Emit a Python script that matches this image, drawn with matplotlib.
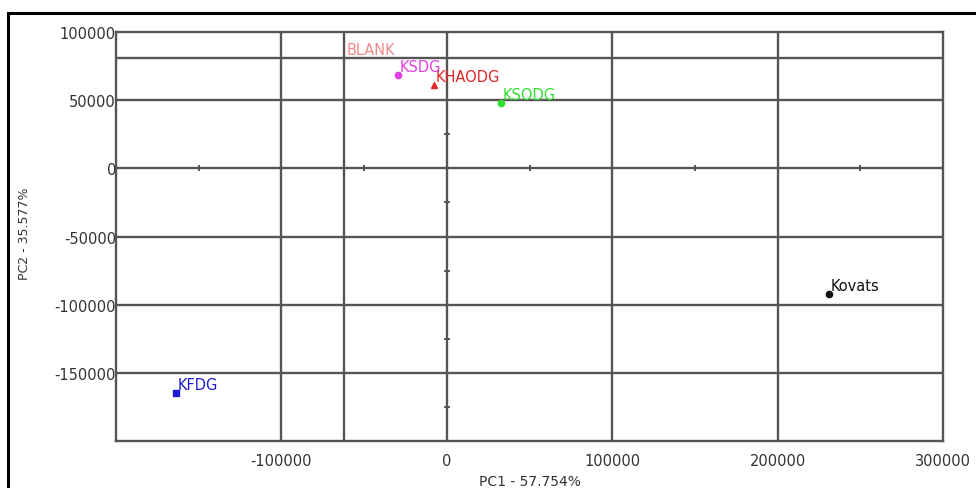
import matplotlib
matplotlib.use("Agg")
import matplotlib.pyplot as plt
from matplotlib.patches import Rectangle

plt.rcParams['font.family'] = ['DejaVu Sans']

# data
samples = ["BLANK", "KSDG", "KHAODG", "KSODG", "KFDG", "Kovats"]
pc1 = [-62000, -29700, -7900, 32700, -164000, 231000]
pc2 = [81000, 68400, 61000, 47800, -164700, -91900]
colors = ["#f08a8a", "#e040e0", "#e02828", "#30e030", "#1c1cd8", "#111111"]
markers = [None, "o", "^", "o", "s", "o"]

xticks = [-100000, 0, 100000, 200000, 300000]
yticks = [-150000, -100000, -50000, 0, 50000, 100000]
xgrid = [-100000, 0, 100000, 200000]
ygrid = [-150000, -100000, -50000, 0, 50000]
xminor = [-150000, -50000, 50000, 150000, 250000]
yminor = [-175000, -125000, -75000, -25000, 25000]

fig = plt.figure(figsize=(9.76, 4.89), dpi=100)
W, H = 976, 489
# outer frame
fig.patches.append(Rectangle((8 / W, -0.1), 1.2, 1 - 14 / H + 0.1, transform=fig.transFigure,
                             fill=False, edgecolor="black", linewidth=2.2, zorder=0))

ax = fig.add_axes([116 / W, (H - 442) / H, (943 - 116) / W, (442 - 33) / H])
ax.set_xlim(-200000, 300000)
ax.set_ylim(-200000, 100000)

gc = "#555555"
for s in ax.spines.values():
    s.set_color(gc)
    s.set_linewidth(1.7)

for xv in xgrid:
    ax.axvline(xv, color=gc, lw=1.7, zorder=1)
for yv in ygrid:
    ax.axhline(yv, color=gc, lw=1.7, zorder=1)
# BLANK crosshair lines
ax.axvline(pc1[0], color=gc, lw=1.7, zorder=1)
ax.axhline(pc2[0], color=gc, lw=1.7, zorder=1)

# minor ticks on zero lines
ax.plot(xminor, [0] * len(xminor), linestyle="none", marker="|", ms=5, mew=1.4, color=gc, zorder=2)
ax.plot([0] * len(yminor), yminor, linestyle="none", marker="_", ms=5, mew=1.4, color=gc, zorder=2)

for name, x, y, c, m in zip(samples, pc1, pc2, colors, markers):
    if m is not None:
        ax.plot([x], [y], linestyle="none", marker=m, ms=4.5, color=c, zorder=3)
    ax.annotate(name, (x, y), xytext=(1.5, 0.5), textcoords="offset points", color=c,
                fontsize=10.5, ha="left", va="bottom", zorder=4)

ax.set_xticks(xticks)
ax.set_yticks(yticks)
ax.set_xticklabels([str(v) for v in xticks])
ax.set_yticklabels([str(v) for v in yticks])
ax.tick_params(axis="both", length=0, labelsize=10.5, labelcolor="#333333", pad=9)
ax.tick_params(axis="y", pad=0)

ax.set_xlabel("PC1 - 57.754%", fontsize=10, color="#333333", labelpad=4)
ax.set_ylabel("PC2 - 35.577%", fontsize=9, color="#333333", labelpad=8)
ax.yaxis.set_label_coords(-0.103, 0.51)

fig.savefig("out.png", dpi=100)
